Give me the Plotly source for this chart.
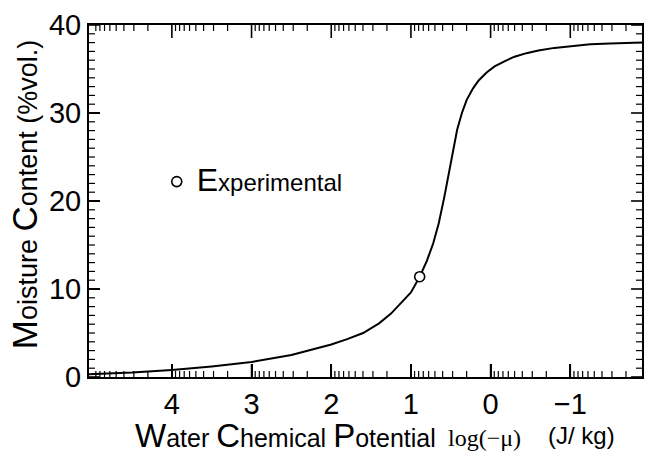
import numpy as np
import plotly.graph_objects as go

# ---- data ----
log_mu = [5.04, 4.5, 4.0, 3.5, 3.0, 2.5, 2.0, 1.8, 1.6, 1.4, 1.25, 1.1, 1.0, 0.89,
          0.8, 0.72, 0.65, 0.58, 0.52, 0.47, 0.42, 0.36, 0.3, 0.22, 0.15, 0.05,
          -0.05, -0.18, -0.3, -0.45, -0.6, -0.8, -1.0, -1.25, -1.5, -1.9]
moisture = [0.3, 0.5, 0.8, 1.2, 1.7, 2.5, 3.7, 4.3, 5.0, 6.1, 7.2, 8.6, 9.6, 11.4,
            13.2, 15.2, 17.5, 20.5, 23.2, 25.8, 28.1, 30.0, 31.5, 32.8, 33.7, 34.6,
            35.3, 35.9, 36.4, 36.8, 37.1, 37.4, 37.6, 37.8, 37.9, 38.0]

exp_x = [0.89]
exp_y = [11.4]

x_ticks = [4, 3, 2, 1, 0, -1]
x_ticklabels = ["4", "3", "2", "1", "0", "\u22121"]
y_ticks = [0, 10, 20, 30, 40]
y_minor_step = 1

X_RANGE = [5.04, -1.9]
Y_RANGE = [0, 40]

# minor ticks on a log-decade pattern
decades = range(-2, 6)
x_minor = [d + np.log10(k) for d in decades for k in range(2, 10)]
x_minor = [float(v) for v in x_minor if X_RANGE[1] < v < X_RANGE[0]]
y_minor = [float(v) for v in np.arange(Y_RANGE[0], Y_RANGE[1] + 0.5, y_minor_step)
           if v not in y_ticks]

FONT = "Liberation Sans, Arial, Helvetica, sans-serif"
SERIF = "Liberation Serif, Times New Roman, serif"

W, H = 648, 454
M = dict(l=89, r=4, t=25, b=77)
PW = W - M["l"] - M["r"]
PH = H - M["t"] - M["b"]

def big(c, s):
    return f"<span style='font-size:{s}px'>{c}</span>"

fig = go.Figure()
fig.add_trace(go.Scatter(
    x=log_mu, y=moisture, mode="lines", line=dict(color="black", width=2),
    name="curve", legend="legend2"))
fig.add_trace(go.Scatter(
    x=exp_x, y=exp_y, mode="markers",
    marker=dict(symbol="circle", size=10, color="white", line=dict(color="black", width=1.6)),
    name=big("E", 32) + "xperimental", legend="legend"))

# tick marks on all four sides (inside), placed through the axis scales
shapes = []
def xtick(v, length_px, width):
    f = length_px / PH
    for y0, y1 in ((0, f), (1, 1 - f)):
        shapes.append(dict(type="line", xref="x", yref="paper", x0=v, x1=v, y0=y0, y1=y1,
                           line=dict(color="black", width=width), layer="above"))
def ytick(v, length_px, width):
    f = length_px / PW
    for x0, x1 in ((0, f), (1, 1 - f)):
        shapes.append(dict(type="line", xref="paper", yref="y", x0=x0, x1=x1, y0=v, y1=v,
                           line=dict(color="black", width=width), layer="above"))
for v in x_ticks:
    xtick(v, 13, 1.6)
for v in x_minor:
    xtick(v, 6, 1.2)
for v in y_ticks:
    ytick(v, 11, 1.6)
for v in y_minor:
    ytick(v, 6, 1.2)

fig.update_layout(
    width=W, height=H,
    margin=M,
    paper_bgcolor="white", plot_bgcolor="white",
    font=dict(family=FONT, color="black", size=24),
    showlegend=True,
    legend=dict(x=0.1225, y=0.554, xanchor="left", yanchor="middle",
                bgcolor="rgba(0,0,0,0)", font=dict(size=24, family=FONT),
                itemwidth=30),
    legend2=dict(visible=False),
    xaxis=dict(
        range=X_RANGE, tickmode="array", tickvals=x_ticks, ticktext=x_ticklabels,
        ticks="inside", ticklen=13, tickwidth=1.5, tickcolor="black",
        showline=True, linecolor="black", linewidth=2, mirror=True,
        showgrid=False, zeroline=False,
        tickfont=dict(size=29, family=FONT),
    ),
    yaxis=dict(
        range=Y_RANGE, tickmode="array", tickvals=y_ticks,
        ticks="inside", ticklen=11, tickwidth=1.5, tickcolor="black",
        showline=True, linecolor="black", linewidth=2, mirror=True,
        showgrid=False, zeroline=False,
        tickfont=dict(size=29, family=FONT),
    ),
    shapes=shapes,
    annotations=[
        dict(xref="paper", yref="paper", x=0.0793, y=-0.166, xanchor="left", yanchor="middle",
             showarrow=False,
             text=big("W", 33) + "ater " + big("C", 33) + "hemical " + big("P", 33) + "otential",
             font=dict(size=25, family=FONT)),
        dict(xref="paper", yref="paper", x=0.646, y=-0.172, xanchor="left", yanchor="middle",
             showarrow=False, text="log(\u2212\u03bc)", font=dict(size=24, family=SERIF)),
        dict(xref="paper", yref="paper", x=0.827, y=-0.166, xanchor="left", yanchor="middle",
             showarrow=False, text="(J/ kg)", font=dict(size=24, family=FONT)),
        dict(xref="paper", yref="paper", x=-0.1153, y=0.52, xanchor="center", yanchor="middle",
             showarrow=False, textangle=-90,
             text=big("M", 35) + "oisture " + big("C", 35) + "ontent (%vol.)",
             font=dict(size=27, family=FONT)),
    ],
)

fig.write_html("out.html")
